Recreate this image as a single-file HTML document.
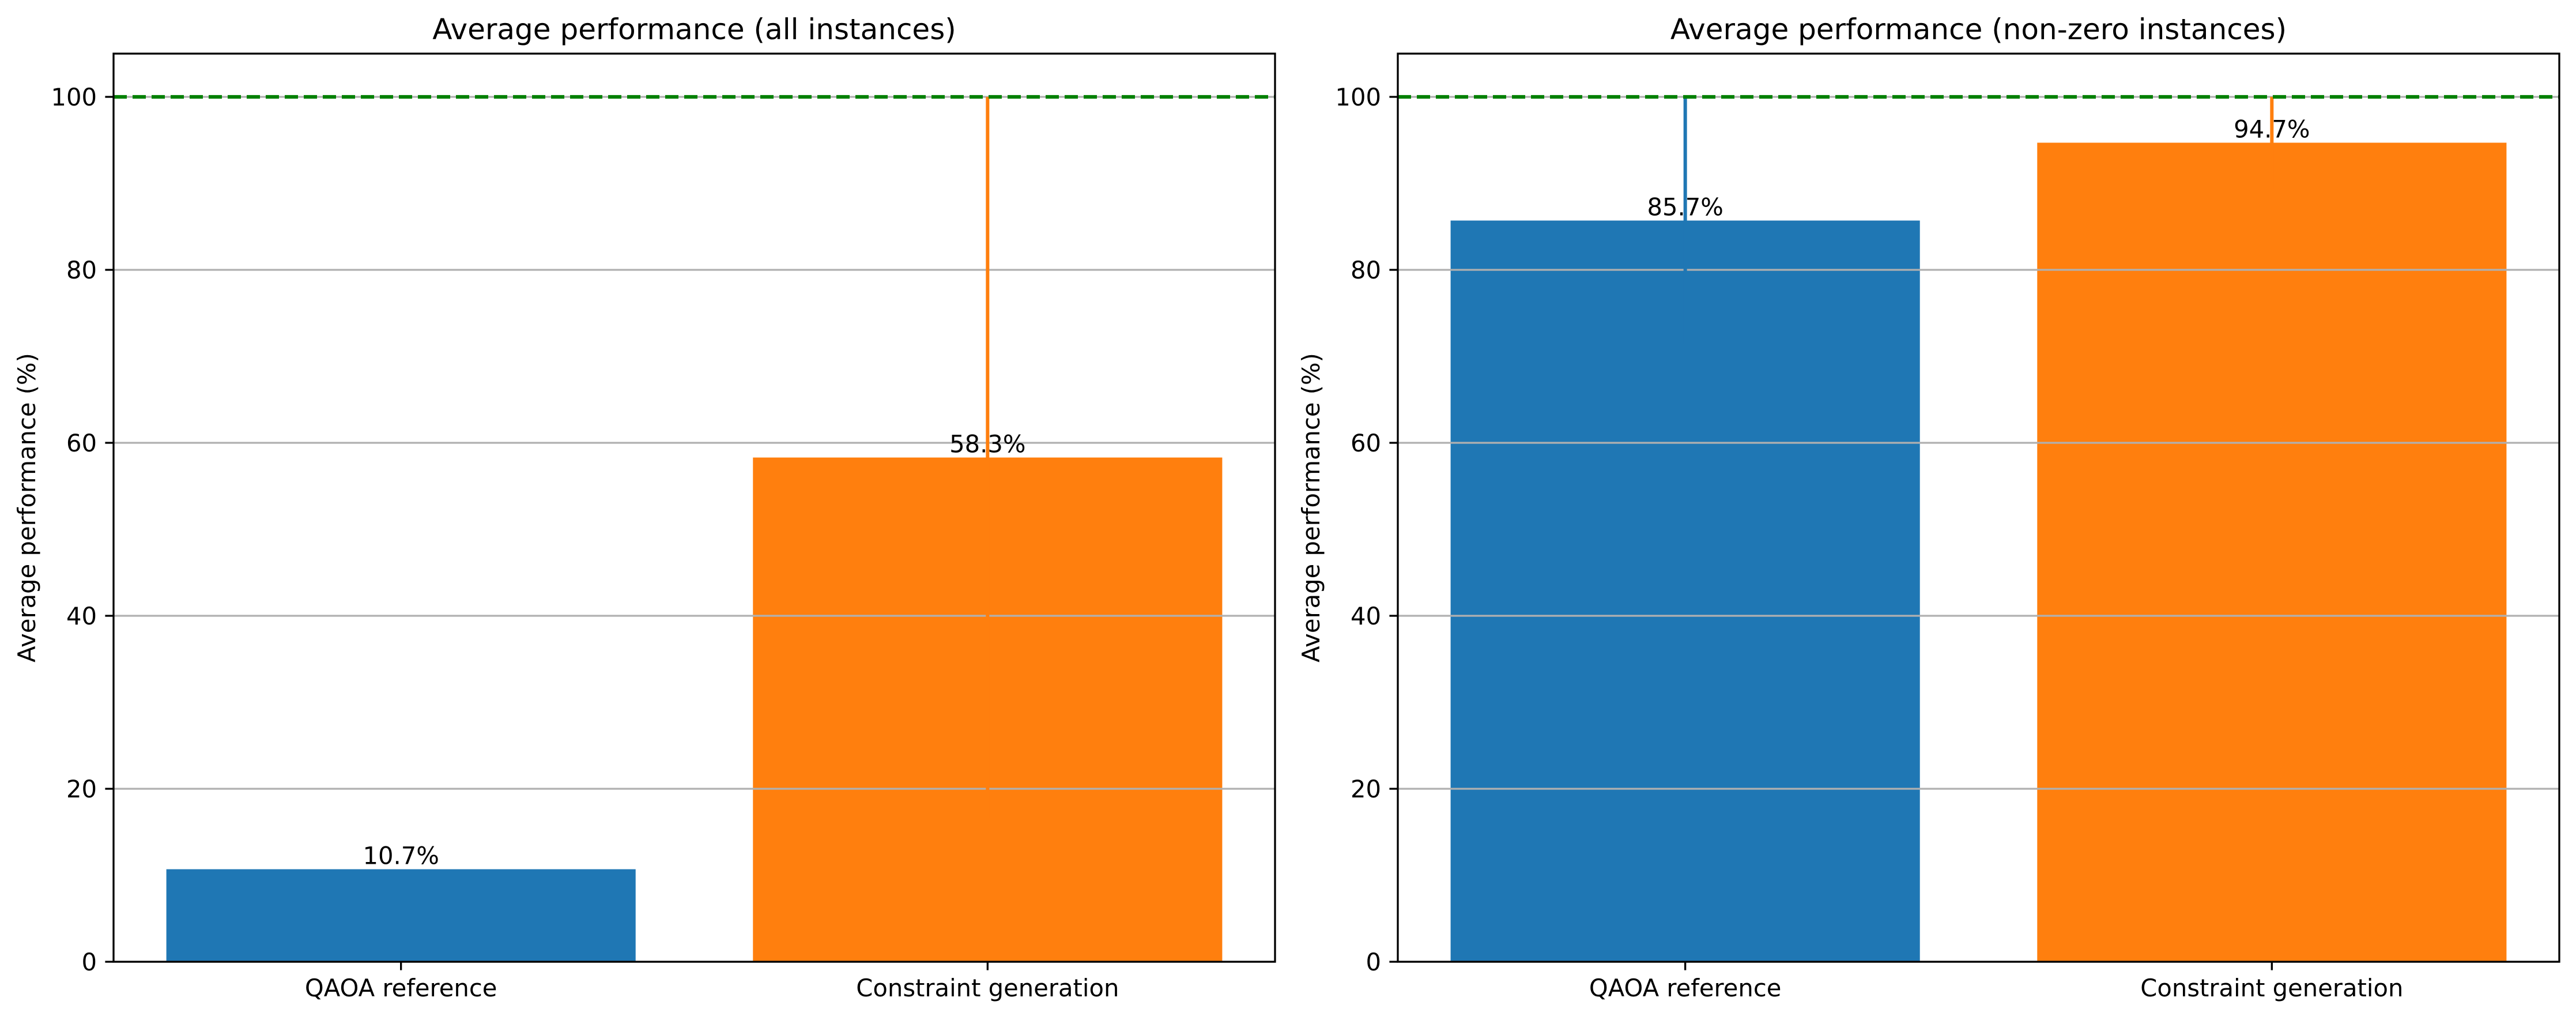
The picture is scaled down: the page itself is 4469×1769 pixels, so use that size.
<!DOCTYPE html>
<html><head><meta charset="utf-8"><style>
html,body{margin:0;padding:0;background:#fff}
svg{display:block}
text{font-family:"DejaVu Sans","Liberation Sans",sans-serif;fill:#000}
</style></head><body>
<svg id="fig" width="4469" height="1769" viewBox="0 0 4469 1769" xmlns="http://www.w3.org/2000/svg"></svg>
<script>
const categories = ["QAOA reference", "Constraint generation"];
const allValues = [10.7, 58.3];
const allErrLow = [0, 41.7];
const allErrHigh = [0, 41.7];
const nonzeroValues = [85.7, 94.7];
const nonzeroErrLow = [14.3, 5.3];
const nonzeroErrHigh = [14.3, 5.3];
const yTicks = [0, 20, 40, 60, 80, 100];
const refLine = 100;
const barColors = ["#1f77b4", "#ff7f0e"];

const svgRoot = document.getElementById('fig');
const NS = 'http://www.w3.org/2000/svg';
function mk(tag, attrs, parent){
  const e = document.createElementNS(NS, tag);
  for (const k in attrs) e.setAttribute(k, attrs[k]);
  (parent||svgRoot).appendChild(e);
  return e;
}
const axTop = 93, axBottom = 1668, yMaxVal = 105;
function yS(v){ return axBottom - v/yMaxVal*(axBottom-axTop); }

function panel(name, left, right, title, vals, eLo, eHi){
  const g = mk('g', {});
  
  
  const xmin = -0.49, xmax = 1.49;
  const xS = v => left + (v - xmin)/(xmax - xmin)*(right-left);
  const unit = (right-left)/(xmax-xmin);
  vals.forEach((v,i)=>{
    const r = mk('rect', {x:xS(i-0.4), y:yS(v), width:0.8*unit, height:yS(0)-yS(v), fill:barColors[i]}, g);
    
    
  });
  yTicks.forEach(t=>{
    const l = mk('line', {x1:left, x2:right, y1:yS(t), y2:yS(t), stroke:'#b0b0b0', 'stroke-width':3.3}, g);
    
    
  });
  vals.forEach((v,i)=>{
    if (eLo[i]===0 && eHi[i]===0) return;
    const lo = Math.max(0, v - eLo[i]), hi = Math.min(yMaxVal, v + eHi[i]);
    const l = mk('line', {x1:xS(i), x2:xS(i), y1:yS(lo), y2:yS(hi), stroke:barColors[i], 'stroke-width':6}, g);
    
    
  });
  const rl = mk('line', {x1:left, x2:right, y1:yS(refLine), y2:yS(refLine), stroke:'#008000', 'stroke-width':6.2, 'stroke-dasharray':'23 10'}, g);
  
  
  vals.forEach((v,i)=>{
    const t = mk('text', {x:xS(i), y:yS(v)-9, 'text-anchor':'middle', 'font-size':41.7}, g);
    t.textContent = v.toFixed(1) + '%';
    
    
  });
  const f = mk('rect', {x:left, y:axTop, width:right-left, height:axBottom-axTop, fill:'none', stroke:'#000', 'stroke-width':3.3}, g);
  
  
  yTicks.forEach(t=>{
    mk('line', {x1:left-14.6, x2:left, y1:yS(t), y2:yS(t), stroke:'#000', 'stroke-width':3.3}, g);
    const tl = mk('text', {x:left-29, y:yS(t)+15, 'text-anchor':'end', 'font-size':41.7}, g);
    tl.textContent = t;
    
    
  });
  categories.forEach((c,i)=>{
    mk('line', {x1:xS(i), x2:xS(i), y1:axBottom, y2:axBottom+14.6, stroke:'#000', 'stroke-width':3.3}, g);
    const tl = mk('text', {x:xS(i), y:axBottom+60, 'text-anchor':'middle', 'font-size':41.7}, g);
    tl.textContent = c;
    
    
  });
  const tt = mk('text', {x:(left+right)/2, y:68, 'text-anchor':'middle', 'font-size':50}, g);
  tt.textContent = title;
  
  
  const yl = mk('text', {x:0, y:0, 'text-anchor':'middle', 'font-size':41.7, transform:`translate(${left-136},${(axTop+axBottom)/2}) rotate(-90)`}, g);
  yl.textContent = 'Average performance (%)';
  
  
}
panel('left-panel', 197, 2212, 'Average performance (all instances)', allValues, allErrLow, allErrHigh);
panel('right-panel', 2425, 4440, 'Average performance (non-zero instances)', nonzeroValues, nonzeroErrLow, nonzeroErrHigh);
</script>
</body></html>
